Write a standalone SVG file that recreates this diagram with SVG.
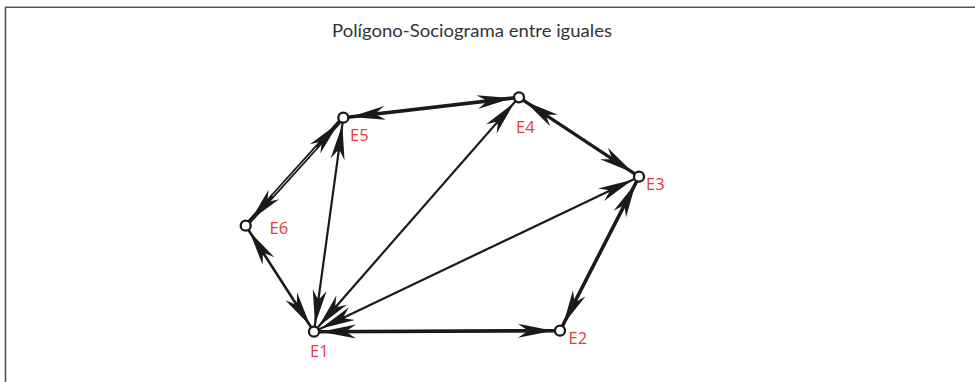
<svg xmlns="http://www.w3.org/2000/svg" width="975" height="382" viewBox="0 0 975 382">
<style>
.frame{stroke:#555;stroke-width:1.6;fill:none}
.title{font-family:"Lato","Open Sans",sans-serif;font-size:18px;fill:#333}
.edge{stroke:#1a1a1a;fill:none;marker-start:url(#arr);marker-end:url(#arr)}
.node circle{fill:#fff;stroke:#1a1a1a;stroke-width:2.3}
.node text{font-family:"Open Sans","Noto Sans",sans-serif;font-size:16.5px;fill:#e8393f}
</style>
<defs>
<marker id="arr" markerUnits="userSpaceOnUse" viewBox="-50 -10 50 20" markerWidth="50" markerHeight="20" refX="0" refY="0" orient="auto-start-reverse">
<polygon points="-7,0 -42,-7 -34,-1.5 -34,1.5 -42,7" fill="#1a1a1a"/>
</marker>
</defs>
<rect width="975" height="382" fill="#fff"/>
<path class="frame" d="M5.5,382 V7.3 H975"/>
<text class="title" x="332" y="36.5" textLength="280" lengthAdjust="spacingAndGlyphs">Polígono-Sociograma entre iguales</text>
<g id="connectors">
<path class="edge" style="stroke-width:3.6" d="M314,331.7 L560,330.7"/>
<path class="edge" style="stroke-width:3.6" d="M560,330.7 L639,176.7"/>
<path class="edge" style="stroke-width:3.2" d="M639,176.7 L519,97.3"/>
<path class="edge" style="stroke-width:3.6" d="M519,97.3 L343.3,117.7"/>
<path class="edge" style="stroke-width:4.2" d="M343.3,117.7 L245.7,225.7"/>
<path d="M316.5,147.4 L272.5,196" stroke="#fff" stroke-width="0.9"/>
<path class="edge" style="stroke-width:2.6" d="M245.7,225.7 L314,331.7"/>
<path class="edge" style="stroke-width:2.2" d="M314,331.7 L343.3,117.7"/>
<path class="edge" style="stroke-width:2.2" d="M314,331.7 L519,97.3"/>
<path class="edge" style="stroke-width:2.2" d="M314,331.7 L639,176.7"/>
</g>
<g id="E1" class="node"><circle cx="314" cy="331.7" r="5"/><text x="310" y="357">E1</text></g>
<g id="E2" class="node"><circle cx="560" cy="330.7" r="5"/><text x="568.5" y="344">E2</text></g>
<g id="E3" class="node"><circle cx="639" cy="176.7" r="5"/><text x="646" y="190">E3</text></g>
<g id="E4" class="node"><circle cx="519" cy="97.3" r="5"/><text x="516" y="133">E4</text></g>
<g id="E5" class="node"><circle cx="343.3" cy="117.7" r="5"/><text x="350" y="140.5">E5</text></g>
<g id="E6" class="node"><circle cx="245.7" cy="225.7" r="5"/><text x="269.5" y="233.5">E6</text></g>
</svg>
